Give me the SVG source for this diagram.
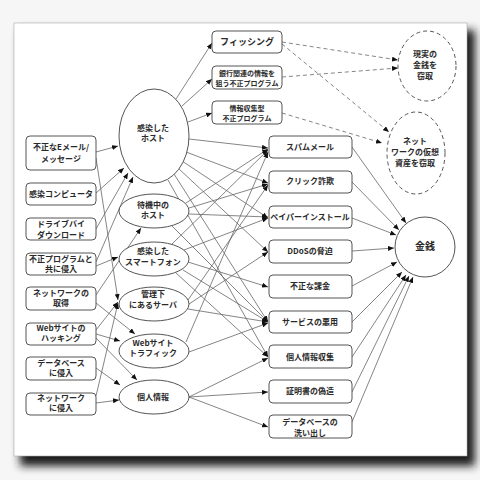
<svg xmlns="http://www.w3.org/2000/svg" width="480" height="480" viewBox="0 0 480 480">
<defs>
<marker id="ah" markerWidth="6" markerHeight="5" refX="6" refY="2.5" orient="auto" markerUnits="userSpaceOnUse"><path d="M0,0 L6,2.5 L0,5 z" fill="#111"/></marker>
<filter id="sh" x="-10%" y="-10%" width="120%" height="120%"><feGaussianBlur stdDeviation="4"/></filter>
<style>
.bx{fill:#fff;stroke:#555;stroke-width:1}
.el{fill:#fff;stroke:#555;stroke-width:1}
.ds{fill:#fff;stroke:#555;stroke-width:1;stroke-dasharray:4,3}
.t{font-family:"Noto Sans CJK JP","Liberation Sans",sans-serif;font-size:8px;font-weight:bold;fill:#2a2a2a;text-anchor:middle}
.s{font-size:7px}
.b{font-size:9px}
.c line{stroke:#666;stroke-width:0.8;marker-end:url(#ah)}
.c .d{stroke-dasharray:4,3}
</style>
</defs>
<rect x="0" y="0" width="480" height="480" fill="#f6f6f6"/>
<rect x="20" y="30" width="455" height="436" fill="#1a1a1a" filter="url(#sh)"/>
<rect x="14" y="23" width="453" height="433" fill="#fff" stroke="#aaa" stroke-width="0.6"/>

<g class="c" id="connectors">
<line x1="96" y1="152" x2="118" y2="146"/>
<line x1="96" y1="158" x2="118" y2="300"/>
<line x1="96" y1="193" x2="124" y2="168"/>
<line x1="96" y1="229" x2="128" y2="173"/>
<line x1="96" y1="262" x2="133" y2="177"/>
<line x1="96" y1="266" x2="118" y2="257"/>
<line x1="96" y1="295" x2="141" y2="228"/>
<line x1="96" y1="303" x2="135" y2="334"/>
<line x1="96" y1="330" x2="118" y2="302"/>
<line x1="96" y1="334" x2="120" y2="341"/>
<line x1="96" y1="338" x2="137" y2="380"/>
<line x1="96" y1="368" x2="120" y2="385"/>
<line x1="96" y1="403" x2="119" y2="400"/>
<line x1="96" y1="396" x2="118" y2="303"/>

<line x1="176" y1="99" x2="212" y2="43"/>
<line x1="182" y1="106" x2="212" y2="79"/>
<line x1="188" y1="122" x2="212" y2="113"/>
<line x1="189" y1="139" x2="268" y2="148"/>
<line x1="186" y1="152" x2="268" y2="183"/>
<line x1="182" y1="161" x2="268" y2="218"/>
<line x1="178" y1="168" x2="268" y2="252"/>
<line x1="174" y1="174" x2="268" y2="322"/>
<line x1="168" y1="180" x2="268" y2="357"/>

<line x1="186" y1="203" x2="268" y2="149"/>
<line x1="189" y1="208" x2="268" y2="184"/>
<line x1="189" y1="214" x2="268" y2="217"/>
<line x1="172" y1="226" x2="268" y2="322"/>

<line x1="172" y1="244" x2="268" y2="150"/>
<line x1="184" y1="250" x2="268" y2="218"/>
<line x1="188" y1="262" x2="268" y2="287"/>
<line x1="183" y1="270" x2="268" y2="322"/>
<line x1="176" y1="273" x2="268" y2="357"/>

<line x1="188" y1="300" x2="268" y2="185"/>
<line x1="189" y1="304" x2="268" y2="252"/>
<line x1="188" y1="309" x2="268" y2="322"/>

<line x1="186" y1="342" x2="268" y2="152"/>
<line x1="189" y1="352" x2="268" y2="323"/>

<line x1="189" y1="397" x2="268" y2="358"/>
<line x1="189" y1="397" x2="268" y2="392"/>
<line x1="189" y1="397" x2="268" y2="427"/>

<line x1="352" y1="147" x2="406" y2="223"/>
<line x1="352" y1="182" x2="399" y2="230"/>
<line x1="352" y1="218" x2="396" y2="235"/>
<line x1="352" y1="251" x2="394" y2="248"/>
<line x1="352" y1="286" x2="397" y2="262"/>
<line x1="352" y1="322" x2="402" y2="272"/>
<line x1="352" y1="357" x2="406" y2="275"/>
<line x1="352" y1="392" x2="409" y2="276"/>
<line x1="352" y1="422" x2="413" y2="277"/>

<line class="d" x1="282" y1="42" x2="398" y2="60"/>
<line class="d" x1="282" y1="44" x2="389" y2="132"/>
<line class="d" x1="282" y1="77" x2="398" y2="68"/>
<line class="d" x1="282" y1="113" x2="382" y2="143"/>
</g>

<g id="n_email"><rect class="bx" x="26" y="136" width="70" height="34" rx="4"/><text class="t" x="61" y="150">不正なEメール/</text><text class="t" x="61" y="162">メッセージ</text></g>
<g id="n_pc"><rect class="bx" x="26" y="183" width="70" height="22" rx="4"/><text class="t" x="61" y="197">感染コンピュータ</text></g>
<g id="n_drive"><rect class="bx" x="26" y="218" width="70" height="22" rx="4"/><text class="t" x="61" y="227">ドライブバイ</text><text class="t" x="61" y="238">ダウンロード</text></g>
<g id="n_malware"><rect class="bx" x="26" y="253" width="70" height="22" rx="4"/><text class="t" x="61" y="262">不正プログラムと</text><text class="t" x="61" y="272">共に侵入</text></g>
<g id="n_netget"><rect class="bx" x="26" y="287" width="70" height="23" rx="4"/><text class="t" x="61" y="296">ネットワークの</text><text class="t" x="61" y="306">取得</text></g>
<g id="n_webhack"><rect class="bx" x="26" y="323" width="70" height="22" rx="4"/><text class="t" x="61" y="331">Webサイトの</text><text class="t" x="61" y="341">ハッキング</text></g>
<g id="n_db"><rect class="bx" x="26" y="357" width="70" height="23" rx="4"/><text class="t" x="61" y="366">データベース</text><text class="t" x="61" y="376">に侵入</text></g>
<g id="n_netin"><rect class="bx" x="26" y="393" width="70" height="22" rx="4"/><text class="t" x="61" y="401">ネットワーク</text><text class="t" x="61" y="411">に侵入</text></g>

<g id="m_host"><ellipse class="el" cx="154" cy="136" rx="35" ry="47"/><text class="t" x="153" y="131">感染した</text><text class="t" x="153" y="141">ホスト</text></g>
<g id="m_wait"><ellipse class="el" cx="154" cy="211" rx="35" ry="17"/><text class="t" x="153" y="208">待機中の</text><text class="t" x="153" y="218">ホスト</text></g>
<g id="m_phone"><ellipse class="el" cx="154" cy="259" rx="35" ry="17"/><text class="t" x="153" y="254">感染した</text><text class="t" x="153" y="265">スマートフォン</text></g>
<g id="m_server"><ellipse class="el" cx="154" cy="304" rx="35" ry="17"/><text class="t" x="153" y="297">管理下</text><text class="t" x="153" y="308">にあるサーバ</text></g>
<g id="m_web"><ellipse class="el" cx="154" cy="351" rx="35" ry="17"/><text class="t" x="153" y="346">Webサイト</text><text class="t" x="153" y="356">トラフィック</text></g>
<g id="m_pinfo"><ellipse class="el" cx="154" cy="397" rx="35" ry="17"/><text class="t" x="153" y="400">個人情報</text></g>

<g id="t_phish"><rect class="bx" x="212" y="31" width="70" height="22" rx="4"/><text class="t b" x="247" y="45">フィッシング</text></g>
<g id="t_bank"><rect class="bx" x="212" y="66" width="70" height="23" rx="4"/><text class="t s" x="247" y="75.5">銀行関連の情報を</text><text class="t s" x="247" y="85.5">狙う不正プログラム</text></g>
<g id="t_info"><rect class="bx" x="212" y="101" width="70" height="23" rx="4"/><text class="t s" x="247" y="110.5">情報収集型</text><text class="t s" x="247" y="120.5">不正プログラム</text></g>

<g id="r_spam"><rect class="bx" x="269" y="136" width="83" height="22" rx="4"/><text class="t" x="310" y="150">スパムメール</text></g>
<g id="r_click"><rect class="bx" x="269" y="171" width="83" height="22" rx="4"/><text class="t" x="310" y="184">クリック詐欺</text></g>
<g id="r_ppi"><rect class="bx" x="269" y="206" width="83" height="22" rx="4"/><text class="t" x="310" y="220">ペイパーインストール</text></g>
<g id="r_ddos"><rect class="bx" x="269" y="240" width="83" height="23" rx="4"/><text class="t" x="310" y="254">DDoSの脅迫</text></g>
<g id="r_bill"><rect class="bx" x="269" y="275" width="83" height="23" rx="4"/><text class="t" x="310" y="289">不正な課金</text></g>
<g id="r_abuse"><rect class="bx" x="269" y="311" width="83" height="22" rx="4"/><text class="t" x="310" y="325">サービスの悪用</text></g>
<g id="r_collect"><rect class="bx" x="269" y="345" width="83" height="23" rx="4"/><text class="t" x="310" y="360">個人情報収集</text></g>
<g id="r_cert"><rect class="bx" x="269" y="380" width="83" height="23" rx="4"/><text class="t" x="310" y="394">証明書の偽造</text></g>
<g id="r_dbdump"><rect class="bx" x="269" y="415" width="83" height="23" rx="4"/><text class="t" x="310" y="425">データベースの</text><text class="t" x="310" y="436">洗い出し</text></g>

<g id="e_real"><ellipse class="ds" cx="427" cy="66" rx="29" ry="35"/><text class="t" x="425" y="57">現実の</text><text class="t" x="425" y="68">金銭を</text><text class="t" x="425" y="79">窃取</text></g>
<g id="e_virtual"><ellipse class="ds" cx="416" cy="153" rx="29" ry="41"/><text class="t" x="415" y="144">ネット</text><text class="t" x="415" y="155">ワークの仮想</text><text class="t" x="415" y="166">資産を窃取</text></g>
<g id="e_money"><ellipse class="el" cx="425" cy="247" rx="30" ry="30"/><text class="t" x="425" y="250" style="font-size:10px">金銭</text></g>
</svg>
